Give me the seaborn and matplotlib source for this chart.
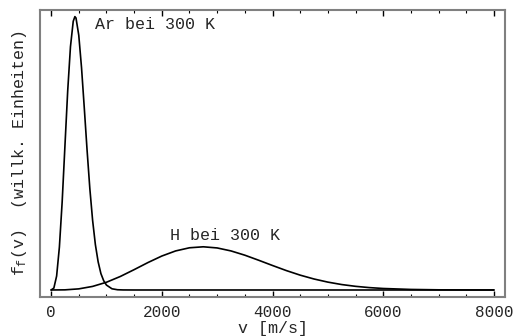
import matplotlib
matplotlib.use("Agg")
import matplotlib.pyplot as plt
import seaborn as sns
import pandas as pd
from matplotlib.ticker import MultipleLocator

# Flux distributions f_f(v) at 300 K, arbitrary units
v_ar = [0, 50, 100, 150, 200, 250, 300, 350, 400, 430, 450, 500, 550, 600, 650,
        700, 750, 800, 850, 900, 950, 1000, 1100, 1200, 1300, 1500, 8000]
f_ar = [0.0, 0.007, 0.051, 0.157, 0.322, 0.526, 0.728, 0.890, 0.983, 1.000, 0.995,
        0.932, 0.813, 0.665, 0.512, 0.371, 0.255, 0.166, 0.103, 0.060, 0.034,
        0.018, 0.0044, 0.0009, 0.0002, 0.0, 0.0]

v_h = [0, 250, 500, 750, 1000, 1250, 1500, 1750, 2000, 2250, 2500, 2750, 3000,
       3250, 3500, 3750, 4000, 4250, 4500, 4750, 5000, 5250, 5500, 5750, 6000,
       6500, 7000, 7500, 8000]
f_h = [0.0, 0.0005, 0.0041, 0.0131, 0.0283, 0.0494, 0.0744, 0.1004, 0.1242,
       0.1429, 0.1544, 0.1580, 0.1538, 0.1429, 0.1273, 0.1088, 0.0896, 0.0710,
       0.0543, 0.0402, 0.0288, 0.0199, 0.0134, 0.0087, 0.0055, 0.0020, 0.0006,
       0.0002, 0.0]

labels = ["Ar bei 300 K", "H bei 300 K"]
x_ticks = [0, 2000, 4000, 6000, 8000]

sns.set_style("white")
plt.rcParams["font.family"] = ["Liberation Mono", "DejaVu Sans Mono"]
plt.rcParams["mathtext.fontset"] = "custom"
plt.rcParams["mathtext.rm"] = "Liberation Mono"
plt.rcParams["mathtext.it"] = "Liberation Mono"

df = pd.concat([
    pd.DataFrame({"v": v_ar, "f": f_ar, "gas": "Ar"}),
    pd.DataFrame({"v": v_h, "f": f_h, "gas": "H"}),
])

fig = plt.figure(figsize=(5.17, 3.36), dpi=100)
ax = fig.add_axes([0.0774, 0.117, 0.8994, 0.8547])

sns.lineplot(data=df, x="v", y="f", units="gas", estimator=None, sort=False,
             color="black", linewidth=1.2, ax=ax)

ax.set_xlim(-200, 8200)
ax.set_ylim(-0.0245, 1.026)

ax.set_xticks(x_ticks)
ax.set_xticklabels([str(t) for t in x_ticks], fontsize=11.5)
ax.xaxis.set_minor_locator(MultipleLocator(500))
ax.tick_params(axis="x", which="major", direction="in", length=4, width=1,
               color="black", top=True, bottom=True, pad=6)
ax.tick_params(axis="x", which="minor", direction="in", length=2.5, width=0.8,
               color="black", top=True, bottom=True)
ax.set_yticks([])

for sp in ax.spines.values():
    sp.set_color("#808080")
    sp.set_linewidth(1.5)

ax.text(794, 0.97, labels[0], fontsize=12, va="center", ha="left")
ax.text(2148, 0.198, labels[1], fontsize=12, va="center", ha="left")

ax.set_xlabel("v [m/s]", fontsize=12, labelpad=1)
ax.set_ylabel("$f_f$(v)  (willk. Einheiten)", fontsize=12, labelpad=8)

fig.savefig("out.png", dpi=100)
